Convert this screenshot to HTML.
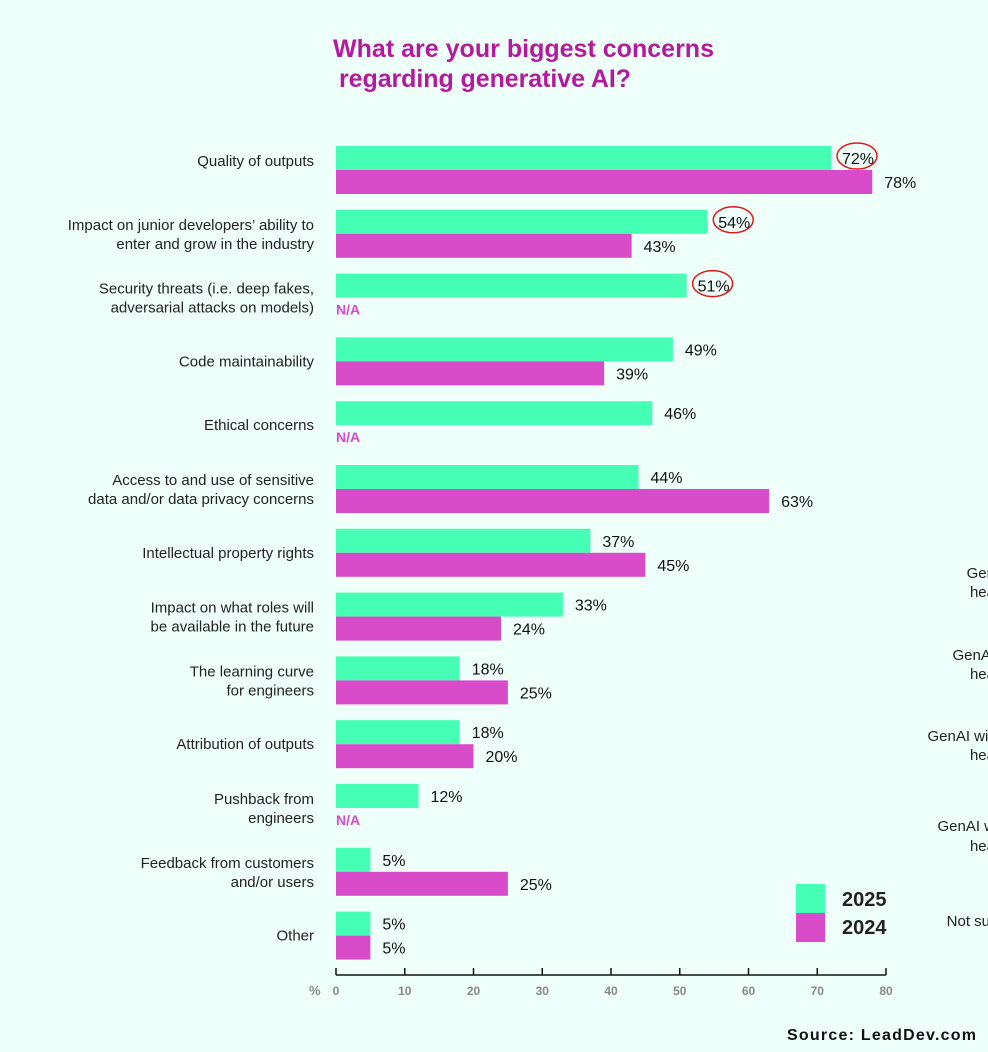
<!DOCTYPE html>
<html><head><meta charset="utf-8"><style>
body{margin:0;background:#effffa;}
svg{display:block;font-family:"Liberation Sans",sans-serif;}
</style></head><body>
<svg id="chart" width="988" height="1052" viewBox="0 0 988 1052">
<rect width="988" height="1052" fill="#effffa"/>
<text x="333" y="57" font-size="25" font-weight="bold" fill="#b5199f" textLength="381">What are your biggest concerns</text>
<text x="339" y="87" font-size="25" font-weight="bold" fill="#b5199f" textLength="292">regarding generative AI?</text>
<g id="bars"></g>
<g id="axis"></g>
<g>
<rect x="796" y="884" width="29" height="29" fill="#44ffb4"/>
<rect x="796" y="913" width="29" height="29" fill="#d84bc9"/>
<text x="842" y="906" font-size="20" font-weight="bold" fill="#222">2025</text>
<text x="842" y="934" font-size="20" font-weight="bold" fill="#222">2024</text>
</g>
<g font-size="15" fill="#222" text-anchor="end">
<text x="995" y="578">Gen</text><text x="995" y="597">hea</text>
<text x="995" y="660">GenAI</text><text x="995" y="679">hea</text>
<text x="995" y="741">GenAI will</text><text x="995" y="760">hea</text>
<text x="995" y="831">GenAI w</text><text x="995" y="851">hea</text>
<text x="995" y="926">Not sur</text>
</g>
<text x="976" y="1040" text-anchor="end" font-size="16" font-weight="bold" fill="#111" textLength="189">Source: LeadDev.com</text>
</svg>
<script>
const categories=[["Quality of outputs"],["Impact on junior developers’ ability to","enter and grow in the industry"],["Security threats (i.e. deep fakes,","adversarial attacks on models)"],["Code maintainability"],["Ethical concerns"],["Access to and use of sensitive","data and/or data privacy concerns"],["Intellectual property rights"],["Impact on what roles will","be available in the future"],["The learning curve","for engineers"],["Attribution of outputs"],["Pushback from","engineers"],["Feedback from customers","and/or users"],["Other"]];
const values2025=[72,54,51,49,46,44,37,33,18,18,12,5,5];
const values2024=[78,43,null,39,null,63,45,24,25,20,null,25,5];
const circled=[0,1,2];
const ticks=[0,10,20,30,40,50,60,70,80];
const NS="http://www.w3.org/2000/svg";
const x0=336,x1=886,xmax=80;
const xs=v=>x0+(x1-x0)*v/xmax;
const rowY=i=>146+i*63.8;
function mk(tag,attrs,parent,txt){const e=document.createElementNS(NS,tag);for(const k in attrs)e.setAttribute(k,attrs[k]);if(txt!=null)e.textContent=txt;parent.appendChild(e);return e;}
const g=document.getElementById('bars');
categories.forEach((lines,i)=>{
  const y=rowY(i);
  const mid=y+24;
  const off=lines.length===1?(i===0?-4:5):-4;
  lines.forEach((l,j)=>{const t=mk('text',{x:314,y:mid+off+j*19,'text-anchor':'end','font-size':15,fill:'#222'},g,l);
  
  });
  const v=values2025[i];
  const r=mk('rect',{x:x0,y:y,width:xs(v)-x0,height:24,fill:'#44ffb4'},g);
  
  
  const tv=mk('text',{x:xs(v)+(circled.includes(i)?11:12),y:y+18,'font-size':16,fill:'#111'},g,v+'%');
  
  
  if(circled.includes(i)){const c=mk('ellipse',{cx:xs(v)+26,cy:y+10,rx:20,ry:13,fill:'none',stroke:'#e01818','stroke-width':1.5},g);
    
    }
  const w=values2024[i];
  if(w==null){const na=mk('text',{x:x0,y:y+41,'font-size':14,'font-weight':'bold',fill:'#d84bc9'},g,'N/A');
    
    }
  else{const r2=mk('rect',{x:x0,y:y+24,width:xs(w)-x0,height:24,fill:'#d84bc9'},g);
    
    
    const t2=mk('text',{x:xs(w)+12,y:y+42,'font-size':16,fill:'#111'},g,w+'%');
    
    }
});
const ax=document.getElementById('axis');
mk('line',{x1:x0,y1:975,x2:x1,y2:975,stroke:'#111','stroke-width':1.5},ax);
mk('text',{x:309,y:995,'font-size':13,'font-weight':'bold',fill:'#888'},ax,'%');
ticks.forEach(t=>{mk('line',{x1:xs(t),y1:968,x2:xs(t),y2:975,stroke:'#111','stroke-width':1.5},ax);
  const tl=mk('text',{x:xs(t),y:995,'text-anchor':'middle','font-size':12,'font-weight':'bold',fill:'#888'},ax,t);
  
  });
</script>
</body></html>
